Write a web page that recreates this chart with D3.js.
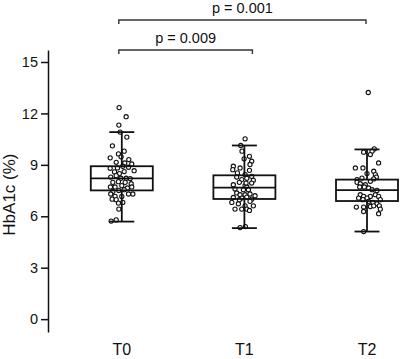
<!DOCTYPE html>
<html>
<head>
<meta charset="utf-8">
<script src="https://cdn.jsdelivr.net/npm/d3@7"></script>
<style>
  body { margin: 0; background: #fff; }
  svg { display: block; font-family: "Liberation Sans", Arial, sans-serif; }
  .axis path, .axis line { stroke: #111; stroke-width: 1.5; }
  .axis text { font-size: 14.5px; fill: #111; }
</style>
</head>
<body>
<div id="chart"></div>
<script>
// Groups and box statistics (HbA1c %)
const groups = ["T0", "T1", "T2"];
const whiskerLow  = [5.69, 5.31, 5.11];
const q1          = [7.51, 7.01, 6.89];
const medians     = [8.21, 7.67, 7.53];
const q3          = [8.92, 8.39, 8.14];
const whiskerHigh = [10.91, 10.13, 9.90];
const yTicks = [0, 3, 6, 9, 12, 15];

// Individual observations: values and jitter (fraction of jitter width, -1..1)
const valuesT0 = [12.34, 11.81, 11.32, 10.91, 10.62, 10.11, 9.80, 9.64, 9.41, 9.47, 9.31, 9.15, 9.11, 9.05,
  8.80, 8.82, 8.92, 8.86, 8.66, 8.59, 8.61, 8.49, 8.29, 8.37, 8.22, 8.22, 8.20, 7.98, 8.02, 7.98, 7.90,
  7.71, 7.71, 7.79, 7.65, 7.45, 7.51, 7.30, 7.30, 7.30, 7.16, 7.16, 7.00, 6.97, 6.77, 6.81, 6.42, 5.79,
  5.72, 7.71, 7.55];
const jitterT0 = [-0.19, 0.31, -0.21, -0.12, 0.36, -0.67, 0.17, -0.24, -0.83, -0.05, 0.50, -0.40, 0.21, 0.71,
  -0.83, -0.31, 0.07, 0.48, 0.88, -0.52, 0.17, -0.17, -0.79, -0.40, -0.07, 0.31, 0.60, -0.64, -0.24, 0.24, 0.67,
  -0.81, -0.48, 0.00, 0.40, -0.64, -0.21, 0.48, 0.79, -0.79, -0.48, 0.00, -0.69, -0.40, -0.24, 0.07, -0.21, -0.40,
  -0.76, 0.71, 0.17];

const valuesT1 = [10.52, 10.13, 9.80, 9.50, 9.35, 9.21, 9.02, 8.92, 8.72, 8.82, 8.68, 8.43, 8.29, 8.33, 8.14,
  8.10, 7.84, 7.79, 7.71, 7.59, 7.55, 7.55, 7.36, 7.26, 7.26, 7.30, 7.20, 7.10, 7.06, 7.12, 7.00, 6.81, 6.73,
  6.87, 6.61, 6.61, 6.42, 6.42, 6.42, 6.34, 5.34, 5.40, 7.98, 7.94, 8.53, 8.22, 7.94, 6.97];
const jitterT1 = [0.05, -0.26, -0.17, 0.36, -0.02, 0.52, 0.40, -0.79, -0.83, -0.31, 0.36, 0.05, -0.55, 0.52, -0.19,
  0.64, -0.79, 0.05, 0.17, -0.67, -0.07, 0.29, -0.55, -0.31, 0.05, 0.40, 0.76, -0.79, -0.19, 0.17, 0.52, -0.90, -0.43,
  0.40, 0.64, 0.05, -0.67, -0.19, 0.17, 0.36, -0.31, 0.07, -0.36, 0.12, -0.50, 0.17, 0.52, -0.36];

const valuesT2 = [9.93, 9.74, 9.80, 9.60, 9.11, 8.82, 8.82, 8.63, 8.49, 8.43, 8.23, 8.29, 8.14, 8.18, 8.04, 7.98,
  7.90, 7.84, 7.71, 7.71, 7.65, 7.55, 7.51, 7.26, 7.26, 7.16, 7.16, 7.16, 7.06, 7.06, 6.97, 6.97, 6.87, 6.81,
  6.73, 6.61, 6.57, 6.61, 6.54, 6.54, 6.42, 6.28, 6.15, 5.11, 13.22];
const jitterT2 = [0.52, -0.24, 0.36, 0.24, 0.83, -0.83, -0.29, 0.48, 0.00, 0.60, -0.36, 0.67, -0.71, 0.48, 0.24, -0.71,
  -0.48, -0.12, -0.52, -0.19, 0.12, 0.36, 0.71, -0.48, 0.60, -0.24, 0.24, 0.83, -0.60, 0.00, 0.95, -0.29, 0.12, 0.43,
  0.71, 0.88, 0.24, 0.48, -0.76, -0.24, 0.95, -0.24, 0.83, -0.24, 0.09];

// Significance comparisons
const comparisons = [
  { from: "T0", to: "T1", label: "p = 0.009" },
  { from: "T0", to: "T2", label: "p = 0.001" }
];

const width = 400, height = 359;
const svg = d3.select("#chart").append("svg")
  .attr("width", width)
  .attr("height", height);

const x = d3.scalePoint()
  .domain(groups)
  .range([121.8, 367]);

const y = d3.scaleLinear()
  .domain([-0.75, 15.7])
  .range([332, 50]);

const boxHalf = 31, capHalf = 12.5, jitterHalf = 14;

// Y axis
svg.append("g")
  .attr("class", "axis")
  .attr("transform", "translate(48,0)")
  .call(d3.axisLeft(y).tickValues(yTicks).tickSize(7).tickSizeOuter(0).tickPadding(3));

svg.append("text")
  .attr("transform", `translate(14.5,${(y(3) + y(12)) / 2 + 4}) rotate(-90)`)
  .attr("text-anchor", "middle")
  .style("font-size", "17px")
  .style("fill", "#111")
  .text("HbA1c (%)");

// X category labels (no axis line)
svg.selectAll(".xlab")
  .data(groups)
  .enter().append("text")
  .attr("class", "xlab")
  .attr("x", d => x(d))
  .attr("y", 355)
  .attr("text-anchor", "middle")
  .style("font-size", "16px")
  .style("fill", "#111")
  .text(d => d);

// Points
const pointSets = [
  { g: "T0", v: valuesT0, j: jitterT0 },
  { g: "T1", v: valuesT1, j: jitterT1 },
  { g: "T2", v: valuesT2, j: jitterT2 }
];
const points = pointSets.flatMap(s => s.v.map((v, i) => ({ g: s.g, v: v, j: s.j[i] })));

svg.append("g").selectAll("circle")
  .data(points)
  .enter().append("circle")
  .attr("cx", d => x(d.g) + d.j * jitterHalf)
  .attr("cy", d => y(d.v))
  .attr("r", 2.1)
  .attr("fill", "#fff")
  .attr("stroke", "#111")
  .attr("stroke-width", 1.1);

// Boxes
const boxes = groups.map((g, i) => ({
  g, lo: whiskerLow[i], q1: q1[i], med: medians[i], q3: q3[i], hi: whiskerHigh[i]
}));
const bx = svg.append("g").selectAll("g")
  .data(boxes)
  .enter().append("g")
  .attr("stroke", "#111")
  .attr("stroke-width", 1.8)
  .attr("fill", "none");

bx.append("line")
  .attr("x1", d => x(d.g)).attr("x2", d => x(d.g))
  .attr("y1", d => y(d.hi)).attr("y2", d => y(d.q3));
bx.append("line")
  .attr("x1", d => x(d.g)).attr("x2", d => x(d.g))
  .attr("y1", d => y(d.q1)).attr("y2", d => y(d.lo));
bx.append("line")
  .attr("x1", d => x(d.g) - capHalf).attr("x2", d => x(d.g) + capHalf)
  .attr("y1", d => y(d.hi)).attr("y2", d => y(d.hi));
bx.append("line")
  .attr("x1", d => x(d.g) - capHalf).attr("x2", d => x(d.g) + capHalf)
  .attr("y1", d => y(d.lo)).attr("y2", d => y(d.lo));
bx.append("rect")
  .attr("x", d => x(d.g) - boxHalf)
  .attr("width", boxHalf * 2)
  .attr("y", d => y(d.q3))
  .attr("height", d => y(d.q1) - y(d.q3));
bx.append("line")
  .attr("x1", d => x(d.g) - boxHalf).attr("x2", d => x(d.g) + boxHalf)
  .attr("y1", d => y(d.med)).attr("y2", d => y(d.med));

// Significance brackets
const bracketY = [50, 20];
comparisons.forEach((c, i) => {
  const x1 = x(c.from) - 3;
  const x2 = x(c.to) + (i === 0 ? 8 : -1);
  const by = bracketY[i];
  svg.append("path")
    .attr("d", `M${x1},${by + 4}V${by}H${x2}V${by + 4}`)
    .attr("fill", "none")
    .attr("stroke", "#333")
    .attr("stroke-width", 1.4);
  svg.append("text")
    .attr("x", (x1 + x2) / 2)
    .attr("y", by - 7)
    .attr("text-anchor", "middle")
    .style("font-size", "14.5px")
    .style("fill", "#111")
    .text(c.label);
});
</script>
</body>
</html>
